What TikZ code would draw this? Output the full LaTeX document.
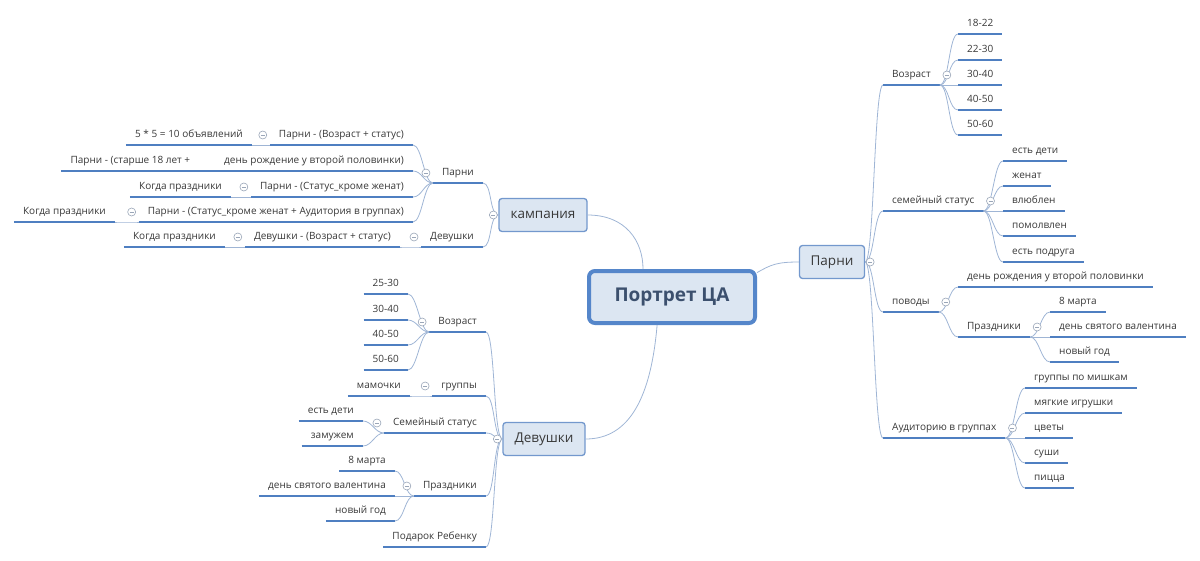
\documentclass[tikz,border=0pt]{standalone}
\usepackage{fontspec}
\setmainfont{Open Sans}
\usepackage{xcolor}

\definecolor{lineblue}{HTML}{4F7FC1}
\definecolor{branchblue}{HTML}{9FB5D5}
\definecolor{foldgray}{HTML}{9AA6B8}
\definecolor{boxfill}{HTML}{DCE6F2}
\definecolor{boxdraw}{HTML}{7398CD}
\definecolor{rootdraw}{HTML}{5586CA}
\definecolor{roottext}{HTML}{3C506E}
\definecolor{txt}{HTML}{383838}

\tikzset{
  topic/.style={inner xsep=9pt, inner ysep=5pt, text height=8pt, text depth=2pt,
    font=\fontsize{10}{12}\selectfont, text=txt,
    append after command={(\tikzlastnode.south west) edge[draw=lineblue, line width=2.4pt] (\tikzlastnode.south east)}},
  rtopic/.style={topic, anchor=south west},
  ltopic/.style={topic, anchor=south east},
  mainbox/.style={draw=boxdraw, fill=boxfill, line width=1.3pt, rounded corners=3pt,
    minimum height=33pt, inner sep=0pt, font=\fontsize{13.5}{16}\selectfont, text=txt},
  root/.style={draw=rootdraw, fill=boxfill, line width=4pt, rounded corners=6pt,
    minimum width=166pt, minimum height=52pt, inner sep=0pt,
    font=\fontsize{19}{22}\selectfont\bfseries, text=roottext},
  rbranch/.style={draw=branchblue, line width=0.8pt,
    to path={.. controls +(9,0) and +(-9,0) .. (\tikztotarget)}},
  lbranch/.style={draw=branchblue, line width=0.8pt,
    to path={.. controls +(-9,0) and +(9,0) .. (\tikztotarget)}},
  link/.style={draw=branchblue, line width=0.8pt},
  fold/.style={circle, draw=foldgray, fill=white, line width=0.6pt, minimum size=8pt, inner sep=0pt,
    path picture={\draw[foldgray, line width=0.6pt] ([xshift=2pt]path picture bounding box.west) -- ([xshift=-2pt]path picture bounding box.east);}}
}

\begin{document}
\begin{tikzpicture}[x=1pt, y=-1pt]
\useasboundingbox (0,0) rectangle (1200,560);

% Main topics
\node[root] (ca) at (672,297) {Портрет ЦА};
\node[mainbox, minimum width=88pt] (kamp) at (543,215) {кампания};
\node[mainbox, minimum width=65pt] (parni) at (832,262) {Парни};
\node[mainbox, minimum width=82pt] (dev) at (544,439) {Девушки};

\draw[link] (kamp.east) .. controls +(38,0) and +(0,-28) .. (ca.136);
\draw[link] (ca.16) .. controls +(14,-8) and +(-22,0) .. (parni.west);
\draw[link] (ca.-118) .. controls +(-6,70) and +(45,0) .. (dev.east);

% Parni (right)
\node[rtopic] (vr) at (883,85) {Возраст};
\node[rtopic] (a1) at (958,34) {18-22};
\node[rtopic] (a2) at (958,60) {22-30};
\node[rtopic] (a3) at (958,85) {30-40};
\node[rtopic] (a4) at (958,110) {40-50};
\node[rtopic] (a5) at (958,135) {50-60};

\node[rtopic] (ss) at (883,211) {семейный статус};
\node[rtopic] (s1) at (1003,161) {есть дети};
\node[rtopic] (s2) at (1003,186) {женат};
\node[rtopic] (s3) at (1003,211) {влюблен};
\node[rtopic] (s4) at (1003,236) {помолвлен};
\node[rtopic] (s5) at (1003,262) {есть подруга};

\node[rtopic] (pv) at (883,312) {поводы};
\node[rtopic] (p1) at (958,287) {день рождения у второй половинки};
\node[rtopic] (pr) at (958,337) {Праздники};
\node[rtopic] (h1) at (1050,312) {8 марта};
\node[rtopic] (h2) at (1050,337) {день святого валентина};
\node[rtopic] (h3) at (1050,362) {новый год};

\node[rtopic] (au) at (883,438) {Аудиторию в группах};
\node[rtopic] (g1) at (1025,388) {группы по мишкам};
\node[rtopic] (g2) at (1025,413) {мягкие игрушки};
\node[rtopic] (g3) at (1025,438) {цветы};
\node[rtopic] (g4) at (1025,463) {суши};
\node[rtopic] (g5) at (1025,488) {пицца};

\draw[rbranch] (parni.east) to (vr.south west);
\draw[rbranch] (parni.east) to (ss.south west);
\draw[rbranch] (parni.east) to (pv.south west);
\draw[rbranch] (parni.east) to (au.south west);
\draw[rbranch] (vr.south east) to (a1.south west);
\draw[rbranch] (vr.south east) to (a2.south west);
\draw[rbranch] (vr.south east) to (a3.south west);
\draw[rbranch] (vr.south east) to (a4.south west);
\draw[rbranch] (vr.south east) to (a5.south west);
\draw[rbranch] (ss.south east) to (s1.south west);
\draw[rbranch] (ss.south east) to (s2.south west);
\draw[rbranch] (ss.south east) to (s3.south west);
\draw[rbranch] (ss.south east) to (s4.south west);
\draw[rbranch] (ss.south east) to (s5.south west);
\draw[rbranch] (pv.south east) to (p1.south west);
\draw[rbranch] (pv.south east) to (pr.south west);
\draw[rbranch] (pr.south east) to (h1.south west);
\draw[rbranch] (pr.south east) to (h2.south west);
\draw[rbranch] (pr.south east) to (h3.south west);
\draw[rbranch] (au.south east) to (g1.south west);
\draw[rbranch] (au.south east) to (g2.south west);
\draw[rbranch] (au.south east) to (g3.south west);
\draw[rbranch] (au.south east) to (g4.south west);
\draw[rbranch] (au.south east) to (g5.south west);

% kampaniya (left, top)
\node[ltopic] (kp) at (483,183) {Парни};
\node[ltopic] (kd) at (483,247) {Девушки};
\node[ltopic] (c1) at (413,145) {Парни - (Возраст + статус)};
\node[ltopic] (c1a) at (252,145) {5 * 5 = 10 объявлений};
\node[ltopic] (c2) at (413,171) {Парни - (старше 18 лет +\hspace{34pt}день рождение у второй половинки)};
\node[ltopic] (c3) at (413,197) {Парни - (Статус\_кроме женат)};
\node[ltopic] (c3a) at (231,197) {Когда праздники};
\node[ltopic] (c4) at (413,222) {Парни - (Статус\_кроме женат + Аудитория в группах)};
\node[ltopic] (c4a) at (115,222) {Когда праздники};
\node[ltopic] (d1) at (400,247) {Девушки - (Возраст + статус)};
\node[ltopic] (d1a) at (225,247) {Когда праздники};

\draw[lbranch] (kamp.west) to (kp.south east);
\draw[lbranch] (kamp.west) to (kd.south east);
\draw[lbranch] (kp.south west) to (c1.south east);
\draw[lbranch] (kp.south west) to (c2.south east);
\draw[lbranch] (kp.south west) to (c3.south east);
\draw[lbranch] (kp.south west) to (c4.south east);
\draw[lbranch] (c1.south west) to (c1a.south east);
\draw[lbranch] (c3.south west) to (c3a.south east);
\draw[lbranch] (c4.south west) to (c4a.south east);
\draw[lbranch] (kd.south west) to (d1.south east);
\draw[lbranch] (d1.south west) to (d1a.south east);

% Devushki (left, bottom)
\node[ltopic] (wv) at (486,332) {Возраст};
\node[ltopic] (w1) at (408,294) {25-30};
\node[ltopic] (w2) at (408,320) {30-40};
\node[ltopic] (w3) at (408,345) {40-50};
\node[ltopic] (w4) at (408,370) {50-60};
\node[ltopic] (wg) at (486,396) {группы};
\node[ltopic] (wg1) at (410,396) {мамочки};
\node[ltopic] (ws) at (486,433) {Семейный статус};
\node[ltopic] (ws1) at (363,421) {есть дети};
\node[ltopic] (ws2) at (363,446) {замужем};
\node[ltopic] (wp) at (486,496) {Праздники};
\node[ltopic] (wp1) at (395,471) {8 марта};
\node[ltopic] (wp2) at (395,496) {день святого валентина};
\node[ltopic] (wp3) at (395,521) {новый год};
\node[ltopic] (wd) at (486,547) {Подарок Ребенку};

\draw[lbranch] (dev.west) to (wv.south east);
\draw[lbranch] (dev.west) to (wg.south east);
\draw[lbranch] (dev.west) to (ws.south east);
\draw[lbranch] (dev.west) to (wp.south east);
\draw[lbranch] (dev.west) to (wd.south east);
\draw[lbranch] (wv.south west) to (w1.south east);
\draw[lbranch] (wv.south west) to (w2.south east);
\draw[lbranch] (wv.south west) to (w3.south east);
\draw[lbranch] (wv.south west) to (w4.south east);
\draw[lbranch] (wg.south west) to (wg1.south east);
\draw[lbranch] (ws.south west) to (ws1.south east);
\draw[lbranch] (ws.south west) to (ws2.south east);
\draw[lbranch] (wp.south west) to (wp1.south east);
\draw[lbranch] (wp.south west) to (wp2.south east);
\draw[lbranch] (wp.south west) to (wp3.south east);

% Fold marks
\node[fold] (fparni) at ([xshift=5pt]parni.east) {};
\node[fold] (fkamp) at ([xshift=-5pt]kamp.west) {};
\node[fold] (fdev) at ([xshift=-5pt]dev.west) {};
\node[fold] (fvr) at ([xshift=7pt,yshift=10pt]vr.south east) {};
\node[fold] (fss) at ([xshift=7pt,yshift=10pt]ss.south east) {};
\node[fold] (fpv) at ([xshift=7pt,yshift=10pt]pv.south east) {};
\node[fold] (fpr) at ([xshift=7pt,yshift=10pt]pr.south east) {};
\node[fold] (fau) at ([xshift=7pt,yshift=10pt]au.south east) {};
\node[fold] (fkp) at ([xshift=-7pt,yshift=10pt]kp.south west) {};
\node[fold] (fkd) at ([xshift=-7pt,yshift=10pt]kd.south west) {};
\node[fold] (fc1) at ([xshift=-7pt,yshift=10pt]c1.south west) {};
\node[fold] (fc3) at ([xshift=-7pt,yshift=10pt]c3.south west) {};
\node[fold] (fc4) at ([xshift=-7pt,yshift=10pt]c4.south west) {};
\node[fold] (fd1) at ([xshift=-7pt,yshift=10pt]d1.south west) {};
\node[fold] (fwv) at ([xshift=-7pt,yshift=10pt]wv.south west) {};
\node[fold] (fwg) at ([xshift=-7pt,yshift=10pt]wg.south west) {};
\node[fold] (fws) at ([xshift=-7pt,yshift=10pt]ws.south west) {};
\node[fold] (fwp) at ([xshift=-7pt,yshift=10pt]wp.south west) {};
\end{tikzpicture}
\end{document}
